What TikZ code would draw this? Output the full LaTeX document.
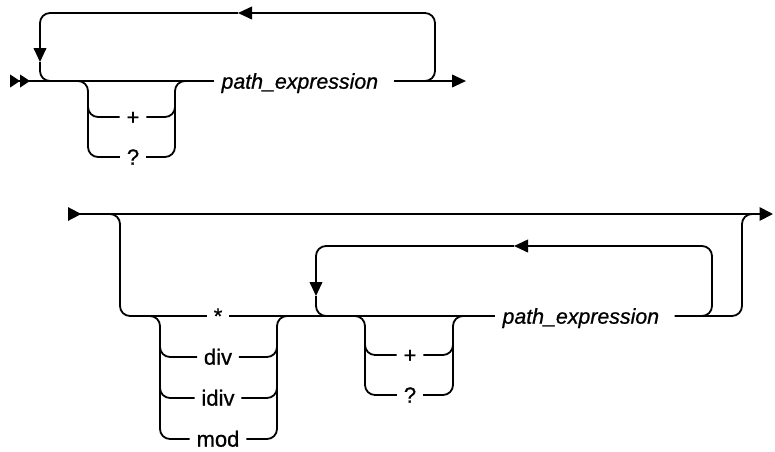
\documentclass[tikz,border=0pt]{standalone}
\usepackage{fontspec}
\setmainfont{Liberation Sans}
\newfontfamily\railfont{Liberation Sans}[FakeBold=0.8]
\usetikzlibrary{arrows.meta}

\begin{document}
\begin{tikzpicture}[x=0.75pt,y=-0.75pt,line width=1.35pt,
    rail/.style={rounded corners=7.5pt},
    arr/.style={-{Triangle[length=10.5pt,width=9.5pt]}},
    lbl/.style={inner xsep=4.5pt,inner ysep=0pt,text height=11.5pt,text depth=0pt,
        font=\railfont\fontsize{16.5}{19}\selectfont},
    term/.style={lbl,inner xsep=5pt,anchor=west,font=\railfont\fontsize{16}{19}\selectfont\itshape}]
\useasboundingbox (0,0) rectangle (775,451);

% first diagram
\coordinate (s1) at (10,81);
\coordinate (e1) at (466,81);
\node[term] (pe1) at (214,81) {path\_expression};
\node[lbl] (plus1) at (133,117) {+};
\node[lbl] (q1) at (133,157) {?};
\coordinate (c1l) at (78,81);
\coordinate (c1r) at (185,81);
\coordinate (l1r) at (422,81);
\coordinate (l1a) at (238,13);
\coordinate (l1b) at (40,62);
\coordinate (l1l) at (53,81);

\draw[{Triangle[reversed,length=7.5pt,width=9.5pt]Triangle[reversed,length=7.5pt,width=9.5pt]}-] (s1) -- (pe1.west);
\draw[arr] ([xshift=6pt]pe1.east) -- (e1);
% repeat loop
\draw[rail,arr] (l1r) -- ++(13,0) |- (l1a);
\draw[rail,arr] (l1a) -| (l1b);
\draw[rail] (l1b) |- (l1l);
% choice
\draw[rail] (c1l) -| (88,157) -- (q1.west);
\draw[rail] (88,105) |- (plus1.west);
\draw[rail] (q1.east) -| (175,81) -- (c1r);
\draw[rail] (plus1.east) -| (175,105);

% second diagram
\coordinate (s2) at (68,214);
\coordinate (e2) at (773,214);
\node[lbl] (star) at (218,316) {*};
\node[lbl] (div) at (218,357) {div};
\node[lbl] (idiv) at (218,398) {idiv};
\node[lbl] (mod) at (218,439) {mod};
\node[lbl] (plus2) at (410,355) {+};
\node[lbl] (q2) at (410,395) {?};
\node[term] (pe2) at (495,316) {path\_expression};
\coordinate (b2l) at (108,214);
\coordinate (b2r) at (755,214);
\coordinate (c2l) at (150,316);
\coordinate (c2r) at (287,316);
\coordinate (c3l) at (355,316);
\coordinate (c3r) at (463,316);
\coordinate (l2r) at (700,316);
\coordinate (l2a) at (514,246);
\coordinate (l2b) at (316,296);
\coordinate (l2l) at (329,316);

\draw[{Triangle[reversed,length=10pt,width=10pt]}-{Triangle[length=10pt,width=10pt]}] (s2) -- (e2);
% optional part
\draw[rail] (b2l) -| (120,316) -- (star.west);
\draw (star.east) -- (pe2.west);
\draw[rail] ([xshift=6pt]pe2.east) -| (742,214) -- (b2r);
% operators
\draw[rail] (c2l) -| (160,439) -- (mod.west);
\draw[rail] (160,340) |- (div.west);
\draw[rail] (160,380) |- (idiv.west);
\draw[rail] (mod.east) -| (277,316) -- (c2r);
\draw[rail] (div.east) -| (277,340);
\draw[rail] (idiv.east) -| (277,380);
% repeat loop
\draw[rail,arr] (l2r) -- ++(12,0) |- (l2a);
\draw[rail,arr] (l2a) -| (l2b);
\draw[rail] (l2b) |- (l2l);
% choice
\draw[rail] (c3l) -| (365,395) -- (q2.west);
\draw[rail] (365,340) |- (plus2.west);
\draw[rail] (q2.east) -| (453,316) -- (c3r);
\draw[rail] (plus2.east) -| (453,340);
\end{tikzpicture}
\end{document}
